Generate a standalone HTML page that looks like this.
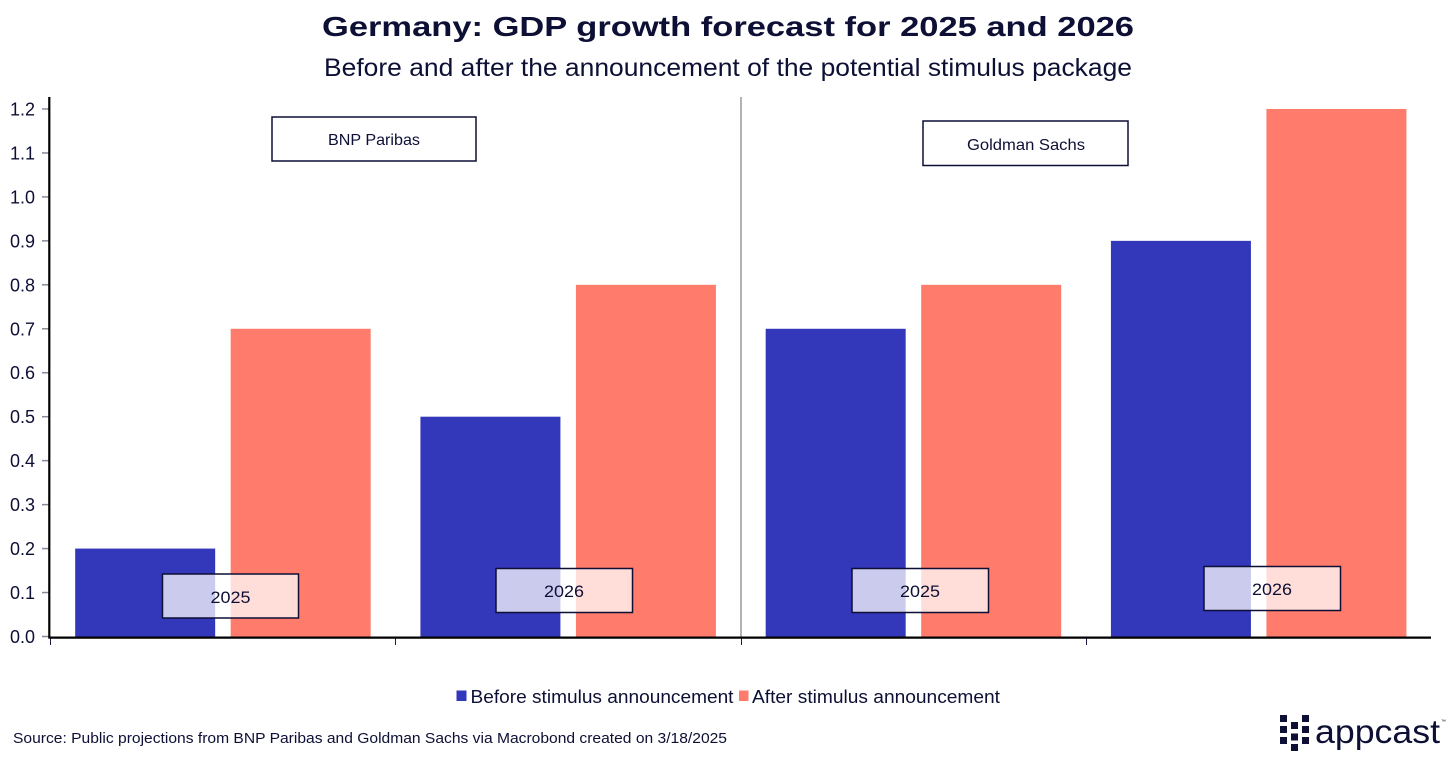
<!DOCTYPE html>
<html lang="en">
<head>
<meta charset="utf-8">
<title>Germany: GDP growth forecast for 2025 and 2026</title>
<style>
html,body{margin:0;padding:0;background:#fff;width:1456px;height:761px;overflow:hidden}
svg{display:block}
text{font-family:"Liberation Sans",sans-serif;fill:#0d0f35}
</style>
</head>
<body>
<svg id="chart" width="1456" height="761" viewBox="0 0 1456 761" xmlns="http://www.w3.org/2000/svg">
  <text x="728" y="36" text-anchor="middle" font-size="28" font-weight="700" textLength="812" lengthAdjust="spacingAndGlyphs">Germany: GDP growth forecast for 2025 and 2026</text>
  <text x="728" y="76" text-anchor="middle" font-size="25" textLength="808" lengthAdjust="spacingAndGlyphs">Before and after the announcement of the potential stimulus package</text>
  <g id="bars"></g>
  <g id="axes"></g>
  <g>
    <g>
      <rect x="272" y="117" width="204" height="44" fill="#fff" fill-opacity="0.75" stroke="#0d0f35" stroke-width="1.5"/>
      <text x="374" y="145" text-anchor="middle" font-size="16" textLength="92" lengthAdjust="spacingAndGlyphs">BNP Paribas</text>
    </g>
    <g>
      <rect x="923" y="121" width="205" height="44.500" fill="#fff" fill-opacity="0.75" stroke="#0d0f35" stroke-width="1.5"/>
      <text x="1026" y="150" text-anchor="middle" font-size="16" textLength="118" lengthAdjust="spacingAndGlyphs">Goldman Sachs</text>
    </g>
    <g>
      <rect x="162.500" y="574" width="136" height="44" fill="#fff" fill-opacity="0.75" stroke="#0d0f35" stroke-width="1.5"/>
      <text x="230.500" y="603" text-anchor="middle" font-size="17" textLength="40" lengthAdjust="spacingAndGlyphs">2025</text>
    </g>
    <g>
      <rect x="496" y="568.500" width="136.500" height="44" fill="#fff" fill-opacity="0.75" stroke="#0d0f35" stroke-width="1.5"/>
      <text x="564" y="597" text-anchor="middle" font-size="17" textLength="40" lengthAdjust="spacingAndGlyphs">2026</text>
    </g>
    <g>
      <rect x="852" y="568.500" width="136.500" height="44" fill="#fff" fill-opacity="0.75" stroke="#0d0f35" stroke-width="1.5"/>
      <text x="920" y="597" text-anchor="middle" font-size="17" textLength="40" lengthAdjust="spacingAndGlyphs">2025</text>
    </g>
    <g>
      <rect x="1204" y="566.500" width="136.500" height="44" fill="#fff" fill-opacity="0.75" stroke="#0d0f35" stroke-width="1.5"/>
      <text x="1272" y="595" text-anchor="middle" font-size="17" textLength="40" lengthAdjust="spacingAndGlyphs">2026</text>
    </g>
  </g>
  <g>
    <g>
      <rect x="456.500" y="690.500" width="10" height="10.500" fill="#3337b9"/>
      <text x="470.500" y="703" font-size="18" textLength="263" lengthAdjust="spacingAndGlyphs">Before stimulus announcement</text>
    </g>
    <g>
      <rect x="739" y="690.500" width="9.500" height="10.500" fill="#ff7b6b"/>
      <text x="752" y="703" font-size="18" textLength="248" lengthAdjust="spacingAndGlyphs">After stimulus announcement</text>
    </g>
  </g>
  <text x="13" y="743" font-size="15" textLength="714" lengthAdjust="spacingAndGlyphs">Source: Public projections from BNP Paribas and Goldman Sachs via Macrobond created on 3/18/2025</text>
  <g fill="#0d0f35">
    <rect x="1280" y="715" width="7" height="7"/><rect x="1280" y="726" width="7" height="7"/><rect x="1280" y="737" width="7" height="7"/>
    <rect x="1291" y="722" width="7" height="7"/><rect x="1291" y="733.500" width="7" height="7"/><rect x="1291" y="744" width="7" height="7"/>
    <rect x="1302" y="715" width="7" height="7"/><rect x="1302" y="726" width="7" height="7"/><rect x="1302" y="737" width="7" height="7"/>
    <text x="1315" y="743" font-size="33" textLength="125" lengthAdjust="spacingAndGlyphs">appcast</text>
    <text x="1441" y="723" font-size="5">™</text>
  </g>
</svg>
<script>
const categories = ["BNP 2025", "BNP 2026", "Goldman 2025", "Goldman 2026"];
const beforeValues = [0.2, 0.5, 0.7, 0.9];
const afterValues = [0.7, 0.8, 0.8, 1.2];
const tickValues = [0, 0.1, 0.2, 0.3, 0.4, 0.5, 0.6, 0.7, 0.8, 0.9, 1.0, 1.1, 1.2];
const tickLabels = ["0.0", "0.1", "0.2", "0.3", "0.4", "0.5", "0.6", "0.7", "0.8", "0.9", "1.0", "1.1", "1.2"];

const NS = "http://www.w3.org/2000/svg";
const plotLeft = 50, plotRight = 1431, plotBase = 636.5, plotTop = 97;
const unitHeight = 439.6, barWidth = 140, barOffset = 7.75, barShift = 0.3;

function yScale(v) { return plotBase - v * unitHeight; }
function bandStart(i) { return plotLeft + i * (plotRight - plotLeft) / categories.length; }
function bandCenter(i) { return bandStart(i + 0.5) + barShift; }

function make(tag, attrs, parent) {
  const el = document.createElementNS(NS, tag);
  for (const k in attrs) el.setAttribute(k, attrs[k]);
  parent.appendChild(el);
  return el;
}

const barsGroup = document.getElementById("bars");
categories.forEach(function (cat, i) {
  const c = bandCenter(i);
  const b = make("rect", { x: c - barOffset - barWidth, y: yScale(beforeValues[i]), width: barWidth, height: plotBase - yScale(beforeValues[i]), fill: "#3337b9" }, barsGroup);
  
  
  const a = make("rect", { x: c + barOffset, y: yScale(afterValues[i]), width: barWidth, height: plotBase - yScale(afterValues[i]), fill: "#ff7b6b" }, barsGroup);
  
  
});

const axesGroup = document.getElementById("axes");
tickValues.forEach(function (v, i) {
  const y = yScale(v);
  const t = make("line", { x1: 42, x2: 49, y1: y, y2: y, stroke: "#8a8a96", "stroke-width": 1.5 }, axesGroup);
  
  
  const l = make("text", { x: 35, y: y + 6.5, "text-anchor": "end", "font-size": 18 }, axesGroup);
  l.textContent = tickLabels[i];
  
  
});

for (let i = 0; i < categories.length; i++) {
  const x = Math.round(bandStart(i)) + 0.5;
  const t = make("line", { x1: x, x2: x, y1: 637, y2: 645, stroke: "#1a1c45", "stroke-width": 1 }, axesGroup);
  
  
}

const divider = make("line", { x1: 741, x2: 741, y1: plotTop, y2: 637, stroke: "#9a9a9e", "stroke-width": 1.5 }, axesGroup);



const yAxis = make("line", { x1: 49.3, x2: 49.3, y1: plotTop, y2: 638.500, stroke: "#000", "stroke-width": 2.2 }, axesGroup);



const xAxis = make("line", { x1: 48.5, x2: plotRight, y1: 637.6, y2: 637.6, stroke: "#000", "stroke-width": 2.2 }, axesGroup);


</script>
</body>
</html>
